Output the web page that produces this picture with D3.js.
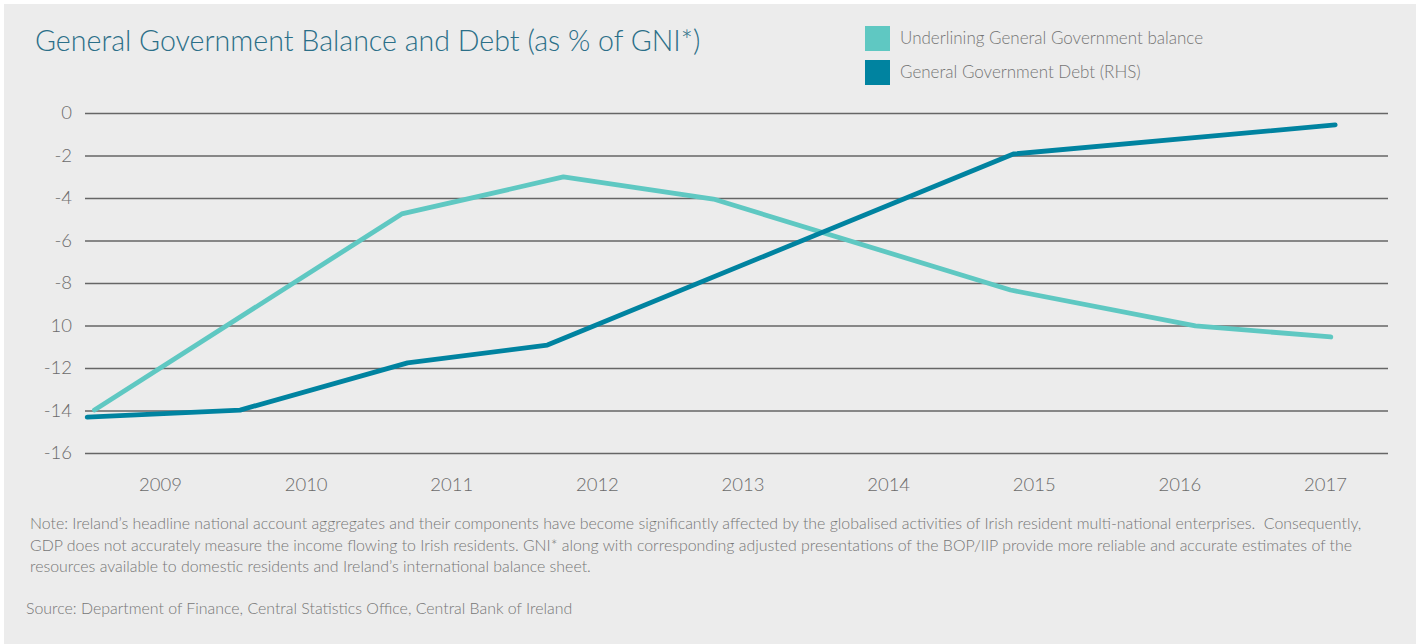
<!DOCTYPE html>
<html>
<head>
<meta charset="utf-8">
<script src="https://cdn.jsdelivr.net/npm/d3@7"></script>
<style>
	html, body { margin: 0; padding: 0; background: #fff; }
	#canvas { width: 1416px; height: 644px; }
	text { font-family: Lato, 'Open Sans', sans-serif; white-space: pre; }
</style>
</head>
<body>
<div id="canvas"></div>
<script>
// year labels on the x axis
const years = [2009, 2010, 2011, 2012, 2013, 2014, 2015, 2016, 2017];
// y ticks, labels as printed (the "10" is how the source prints -10)
const yTicks = [0, -2, -4, -6, -8, -10, -12, -14, -16];
const yTickLabels = ['0', '-2', '-4', '-6', '-8', '10', '-12', '-14', '-16'];

// underlying balance, positions in years
const balanceX = [2008.55, 2010.66, 2011.77, 2012.8, 2014.84, 2016.11, 2017.04];
const balanceY = [-13.98, -4.75, -3.01, -4.05, -8.33, -10.02, -10.54];

// debt (RHS), positions in years
const debtX = [2008.5, 2009.55, 2010.7, 2011.66, 2014.86, 2017.07];
const debtY = [-14.31, -13.98, -11.76, -10.92, -1.93, -0.56];

const seriesNames = ['Underlining General Government balance', 'General Government Debt (RHS)'];
const seriesColors = ['#5fc8c2', '#0083a0'];

const title = 'General Government Balance and Debt (as % of GNI*)';
const noteLines = [
	'Note: Ireland\u2019s headline national account aggregates and their components have become significantly affected by the globalised activities of Irish resident multi-national enterprises.  Consequently,',
	'GDP does not accurately measure the income flowing to Irish residents. GNI* along with corresponding adjusted presentations of the BOP/IIP provide more reliable and accurate estimates of the',
	'resources available to domestic residents and Ireland\u2019s international balance sheet.',
];
const source = 'Source: Department of Finance, Central Statistics Office, Central Bank of Ireland';

const width = 1416;
const height = 644;

const svg = d3.select('#canvas').append('svg')
	.attr('width', width)
	.attr('height', height);

svg.append('rect')
	.attr('x', 4).attr('y', 4)
	.attr('width', width - 4).attr('height', height - 4)
	.attr('fill', '#ececec');

const xScale = d3.scaleLinear().domain([2009, 2017]).range([160, 1325]);
const yScale = d3.scaleLinear().domain([-16, 0]).range([453, 113]);
const gridLeft = 85;
const gridRight = 1388;

// title
svg.append('text')
	.attr('x', 35).attr('y', 51)
	.attr('font-size', 28.6)
	.attr('font-weight', 300)
	.attr('fill', '#2b6f88')
	.text(title);

// legend
const legend = svg.append('g');
seriesNames.forEach((name, i) => {
	legend.append('rect')
		.attr('x', 865).attr('y', 26 + i * 34)
		.attr('width', 25).attr('height', 25)
		.attr('fill', seriesColors[i]);
	legend.append('text')
		.attr('x', 900).attr('y', 44 + i * 34)
		.attr('font-size', 17)
		.attr('font-weight', 300)
		.attr('fill', '#757575')
		.text(name);
});

// y axis with gridlines
const yAxis = svg.append('g')
	.attr('transform', `translate(${gridLeft},0)`)
	.call(d3.axisLeft(yScale)
		.tickValues(yTicks)
		.tickFormat((d, i) => yTickLabels[i])
		.tickSize(gridLeft - gridRight)
		.tickPadding(13));

yAxis.select('.domain').remove();
yAxis.selectAll('.tick line').attr('stroke', '#666').attr('stroke-width', 1.5);
yAxis.selectAll('.tick text')
	.attr('font-size', 18.5)
	.attr('font-weight', 300)
	.attr('fill', '#6b6b6b')
	.style('font-family', 'Lato, sans-serif');

// x axis labels
const xAxis = svg.append('g')
	.attr('transform', 'translate(0,472)')
	.call(d3.axisBottom(xScale).tickValues(years).tickFormat(d3.format('d')).tickSize(0).tickPadding(6));

xAxis.select('.domain').remove();
xAxis.selectAll('.tick text')
	.attr('font-size', 18.5)
	.attr('font-weight', 300)
	.attr('fill', '#6b6b6b')
	.style('font-family', 'Lato, sans-serif');

// lines
const line = d3.line()
	.x(d => xScale(d[0]))
	.y(d => yScale(d[1]));

const lineData = [
	d3.zip(balanceX, balanceY),
	d3.zip(debtX, debtY),
];

svg.append('g').selectAll('path')
	.data(lineData)
	.join('path')
	.attr('d', line)
	.attr('fill', 'none')
	.attr('stroke', (d, i) => seriesColors[i])
	.attr('stroke-width', 4.8)
	.attr('stroke-linecap', 'round')
	.attr('stroke-linejoin', 'round');

// notes
svg.append('g').selectAll('text')
	.data(noteLines)
	.join('text')
	.attr('x', 30)
	.attr('y', (d, i) => 529 + i * 21.5)
	.attr('font-size', 15.9)
	.attr('font-weight', 300)
	.attr('fill', '#777')
	.text(d => d);

svg.append('text')
	.attr('x', 26).attr('y', 614)
	.attr('font-size', 15.9)
	.attr('font-weight', 300)
	.attr('fill', '#777')
	.text(source);
</script>
</body>
</html>
